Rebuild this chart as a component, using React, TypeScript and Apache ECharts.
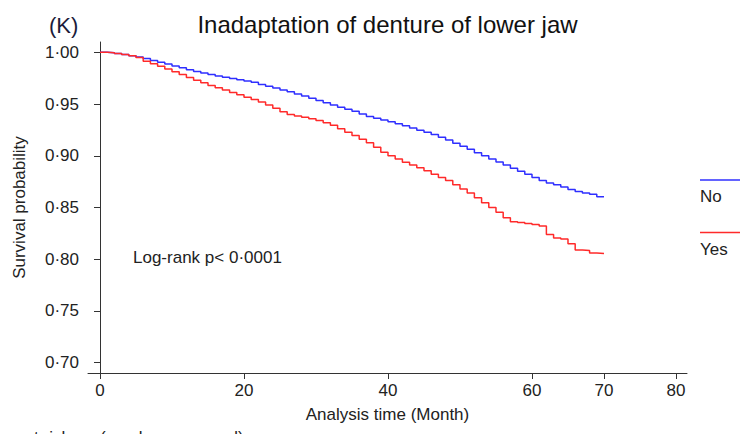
import React, { useEffect, useRef } from 'react';
import * as echarts from 'echarts';

// Kaplan-Meier estimates, one per month (0..70)
const months = Array.from({ length: 71 }, (_, i) => i);

const survivalNo = [
  1.0, 0.9997, 0.999, 0.998, 0.9968, 0.9955, 0.994, 0.9922, 0.9905, 0.9887,
  0.9868, 0.985, 0.9832, 0.9815, 0.98, 0.9786, 0.9772, 0.9759, 0.9746, 0.9734,
  0.9722, 0.971, 0.969, 0.9672, 0.9655, 0.9637, 0.9618, 0.9598, 0.9578, 0.9557,
  0.9535, 0.9512, 0.949, 0.947, 0.945, 0.943, 0.9405, 0.938, 0.9362, 0.9345,
  0.933, 0.931, 0.929, 0.9268, 0.9248, 0.9228, 0.9205, 0.918, 0.9152, 0.9122,
  0.9092, 0.9062, 0.903, 0.9, 0.897, 0.894, 0.891, 0.888, 0.885, 0.8822,
  0.879, 0.8762, 0.8738, 0.872, 0.8697, 0.8675, 0.8655, 0.864, 0.8628, 0.8605,
  0.8602,
];

const survivalYes = [
  1.0, 0.9995, 0.9988, 0.9978, 0.9966, 0.995, 0.9915, 0.989, 0.9865, 0.9838,
  0.9812, 0.9785, 0.9758, 0.973, 0.9705, 0.968, 0.9658, 0.9635, 0.9612, 0.959,
  0.9565, 0.9545, 0.952, 0.9492, 0.946, 0.9425, 0.9398, 0.9385, 0.9372, 0.9358,
  0.934, 0.932, 0.9295, 0.9262, 0.9228, 0.9195, 0.916, 0.9125, 0.9082, 0.9035,
  0.9, 0.8968, 0.8938, 0.8912, 0.8885, 0.8855, 0.8822, 0.879, 0.876, 0.872,
  0.868, 0.864, 0.8595, 0.8545, 0.85, 0.8455, 0.84, 0.8362, 0.8355, 0.8345,
  0.8335, 0.832, 0.824, 0.8205, 0.8195, 0.815, 0.809, 0.8085, 0.806, 0.8055,
  0.805,
];

const xTicks = [0, 20, 40, 60, 70, 80];
const yTicks = [0.7, 0.75, 0.8, 0.85, 0.9, 0.95, 1.0];

const FONT = '"Liberation Sans", Arial, Helvetica, sans-serif';
const INK = '#222';

const App: React.FC = () => {
  const chartRef = useRef<HTMLDivElement>(null);

  useEffect(() => {
    document.body.style.margin = '0';
    if (!chartRef.current) return;
    const chart = echarts.init(chartRef.current, undefined, { renderer: 'svg' });

    const axisLine = { lineStyle: { color: '#333', width: 1 } };

    const option: any = {
      animation: false,
      backgroundColor: '#fff',
      textStyle: { fontFamily: FONT },
      grid: { left: 88, top: 42, width: 599, height: 331 },
      xAxis: {
        type: 'value',
        min: -1.667,
        max: 81.53,
        axisLine,
        axisTick: { show: true, length: 6, customValues: xTicks, lineStyle: { color: '#333' } },
        axisLabel: {
          customValues: xTicks,
          fontSize: 17,
          color: INK,
          margin: 9,
          fontFamily: FONT,
        },
        splitLine: { show: false },
        name: 'Analysis time (Month)',
        nameLocation: 'middle',
        nameGap: 33,
        nameTextStyle: { fontSize: 17, color: INK, fontFamily: FONT },
      },
      yAxis: {
        type: 'value',
        min: 0.69,
        max: 1.01,
        axisLine: { show: true, ...axisLine },
        axisTick: { show: true, length: 6, customValues: yTicks, lineStyle: { color: '#333' } },
        axisLabel: {
          customValues: yTicks,
          fontSize: 17,
          color: INK,
          margin: 9,
          fontFamily: FONT,
          formatter: (v: number) => v.toFixed(2).replace('.', '·'),
        },
        splitLine: { show: false },
        name: 'Survival probability',
        nameLocation: 'middle',
        nameGap: 60,
        nameTextStyle: { fontSize: 17, color: INK, fontFamily: FONT },
      },
      series: [
        {
          name: 'No',
          type: 'line',
          step: 'end',
          symbol: 'none',
          lineStyle: { color: '#2f2fff', width: 1.5 },
          data: months.map((m, i) => [m, survivalNo[i]]),
        },
        {
          name: 'Yes',
          type: 'line',
          step: 'end',
          symbol: 'none',
          lineStyle: { color: '#ff2a2a', width: 1.5 },
          data: months.map((m, i) => [m, survivalYes[i]]),
        },
      ],
      graphic: [
        {
          type: 'text',
          x: 387.5,
          y: 24,
          style: {
            text: 'Inadaptation of denture of lower jaw',
            fontSize: 24,
            fontFamily: FONT,
            fill: '#111',
            textAlign: 'center',
            textVerticalAlign: 'middle',
          },
        },
        {
          type: 'text',
          x: 49,
          y: 25,
          style: {
            text: '(K)',
            fontSize: 22,
            fontFamily: FONT,
            fill: '#1b1b3a',
            textAlign: 'left',
            textVerticalAlign: 'middle',
          },
        },
        {
          type: 'text',
          x: 133,
          y: 257,
          style: {
            text: 'Log-rank p< 0·0001',
            fontSize: 17,
            fontFamily: FONT,
            fill: INK,
            textAlign: 'left',
            textVerticalAlign: 'middle',
          },
        },
        {
          type: 'line',
          shape: { x1: 700, y1: 180, x2: 745, y2: 180 },
          style: { stroke: '#2f2fff', lineWidth: 1.5 },
        },
        {
          type: 'text',
          x: 700,
          y: 196,
          style: {
            text: 'No',
            fontSize: 17,
            fontFamily: FONT,
            fill: INK,
            textAlign: 'left',
            textVerticalAlign: 'middle',
          },
        },
        {
          type: 'line',
          shape: { x1: 700, y1: 232.5, x2: 745, y2: 232.5 },
          style: { stroke: '#ff2a2a', lineWidth: 1.5 },
        },
        {
          type: 'text',
          x: 700,
          y: 249,
          style: {
            text: 'Yes',
            fontSize: 17,
            fontFamily: FONT,
            fill: INK,
            textAlign: 'left',
            textVerticalAlign: 'middle',
          },
        },
        // risk-table header, cut by the bottom edge as in the source figure
        {
          type: 'text',
          x: 70,
          y: 429,
          style: {
            text: 'Number at risk',
            fontSize: 17,
            fontFamily: FONT,
            fill: INK,
            textAlign: 'right',
            textVerticalAlign: 'top',
          },
        },
        {
          type: 'text',
          x: 100,
          y: 429,
          style: {
            text: '(number censored)',
            fontSize: 17,
            fontFamily: FONT,
            fill: INK,
            textAlign: 'left',
            textVerticalAlign: 'top',
          },
        },
      ],
    };

    chart.setOption(option);

    return () => {
      chart.dispose();
    };
  }, []);

  return <div ref={chartRef} style={{ width: 740, height: 434 }} />;
};

export default App;
